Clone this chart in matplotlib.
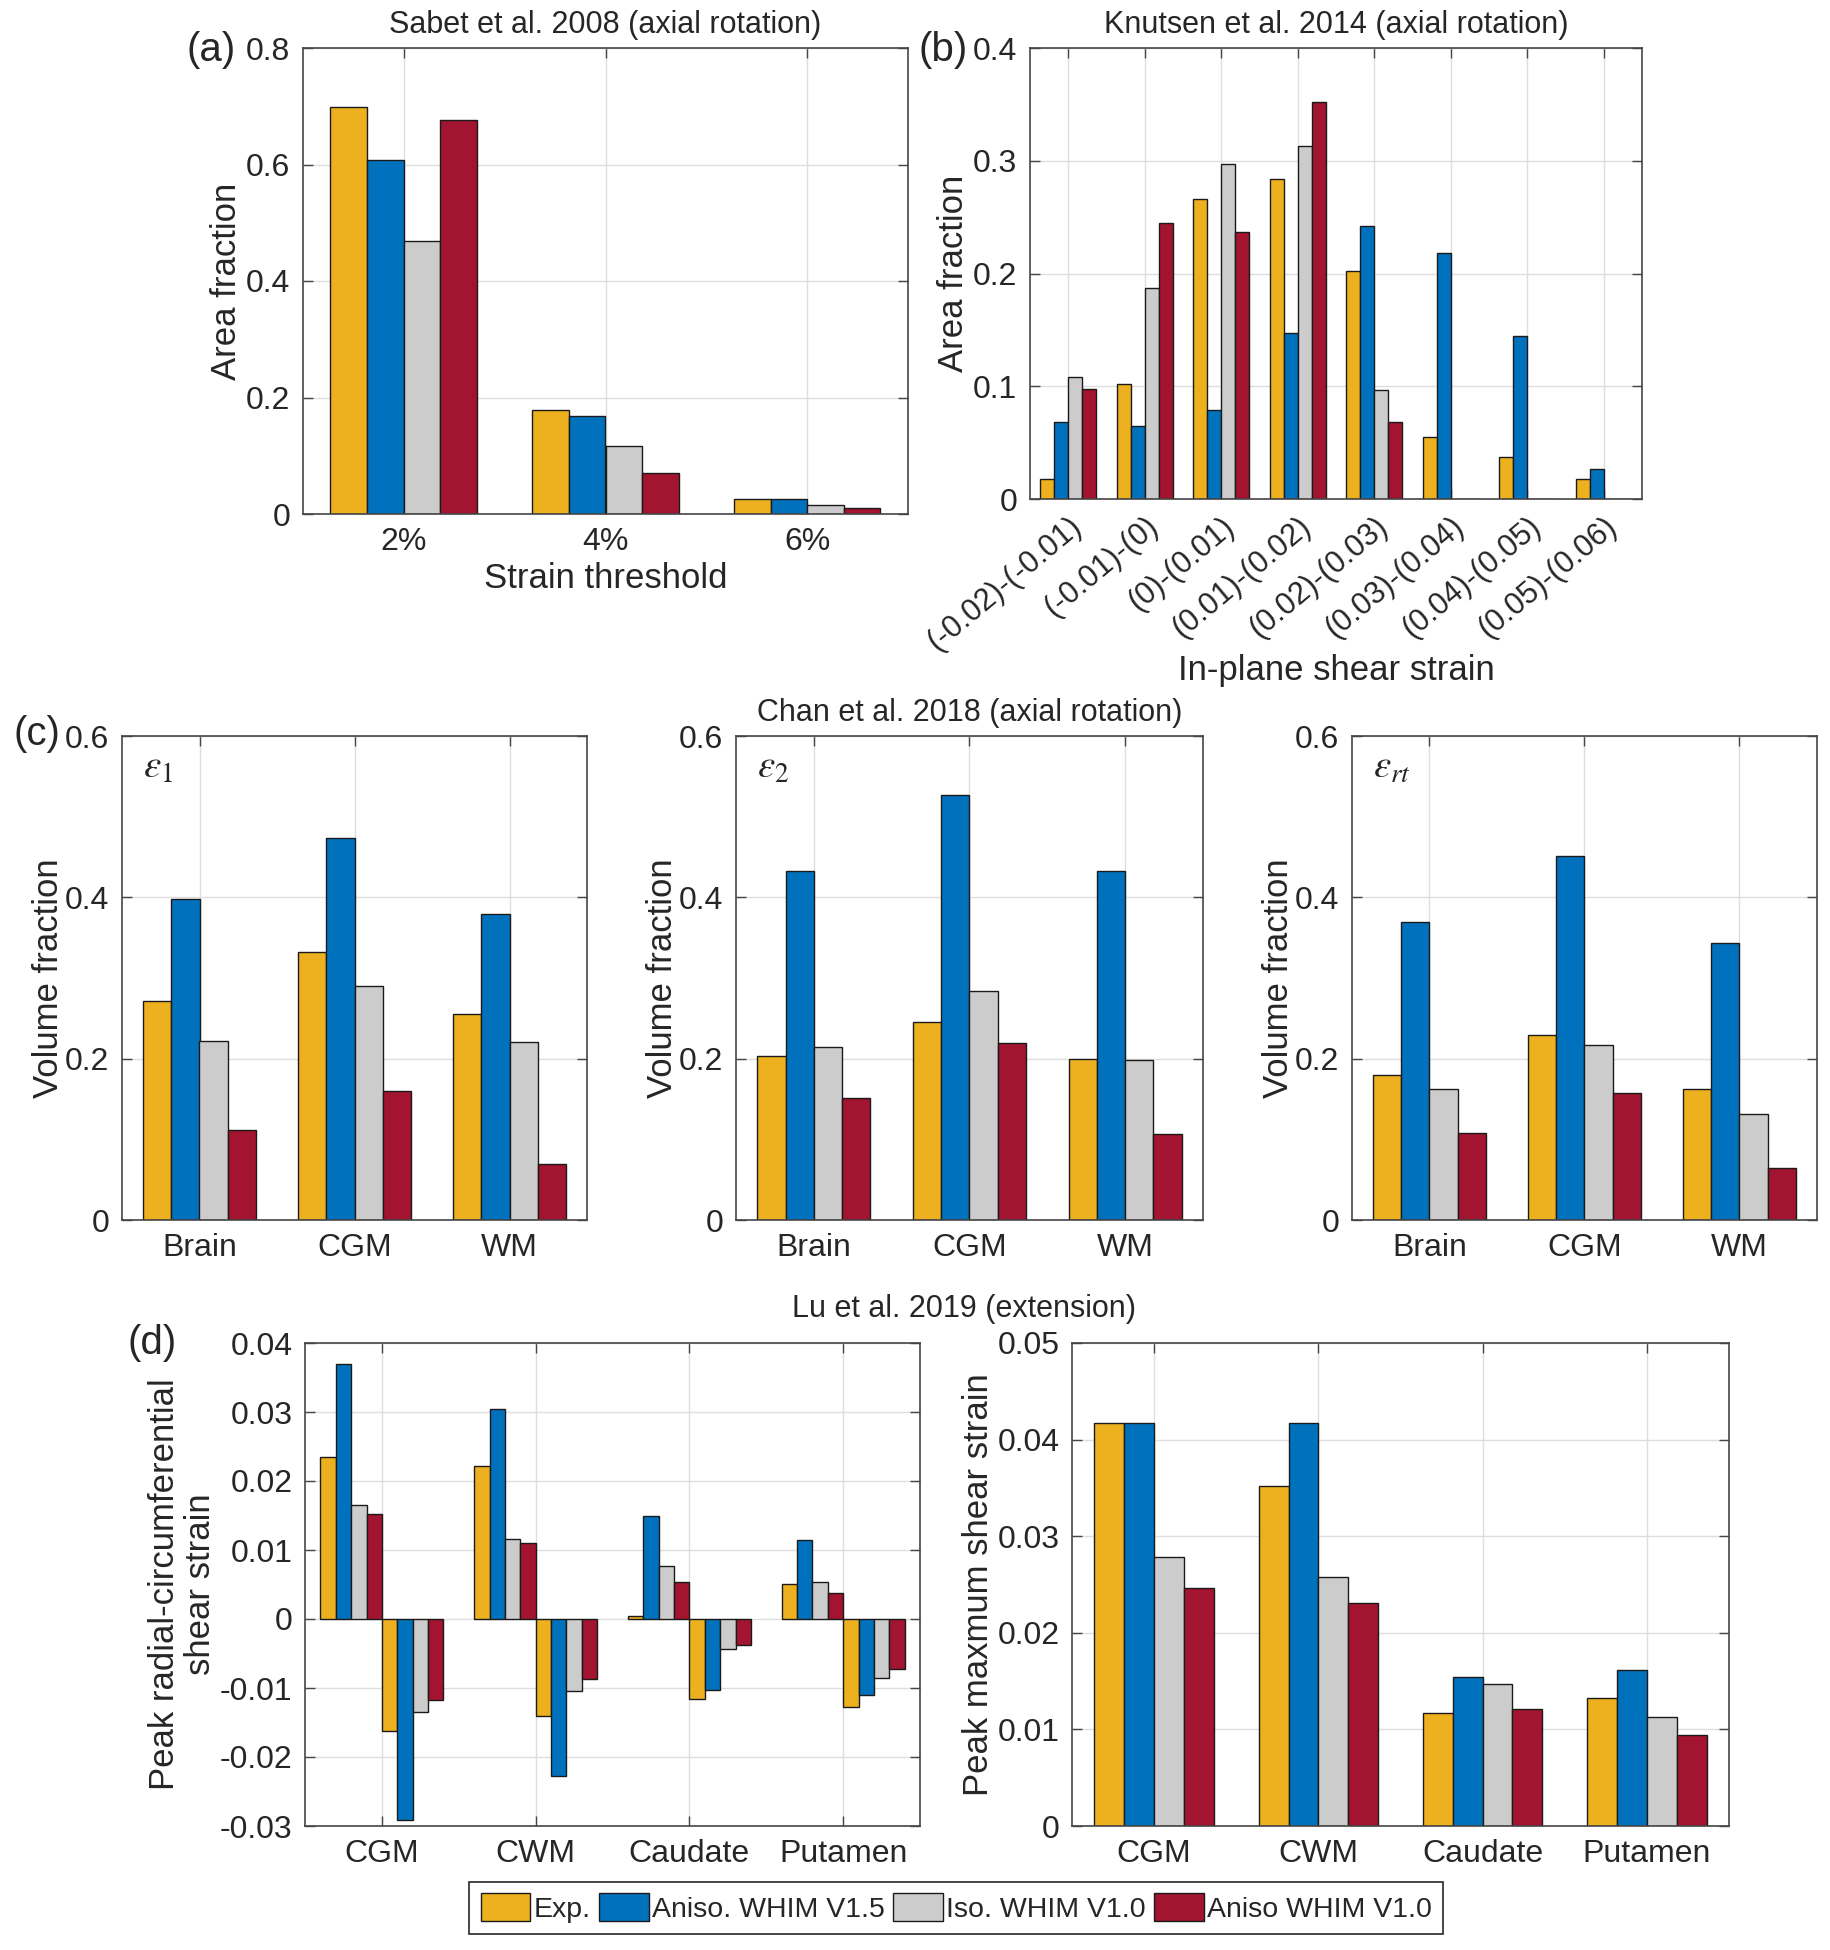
import matplotlib
matplotlib.use("Agg")
import matplotlib.pyplot as plt
from matplotlib.patches import Patch
import numpy as np

plt.rcParams['font.family'] = ['Liberation Sans', 'DejaVu Sans']
plt.rcParams['mathtext.fontset'] = 'stix'

# ---- data ----
series_names = ['Exp.', 'Aniso. WHIM V1.5', 'Iso. WHIM V1.0', 'Aniso WHIM V1.0']
colors = ['#EDB120', '#0072BD', '#CCCCCC', '#A2142F']

# (a) Sabet et al. 2008
a_cats = ['2%', '4%', '6%']
a_exp = [0.698, 0.178, 0.026]
a_an15 = [0.607, 0.168, 0.026]
a_iso = [0.468, 0.117, 0.016]
a_an10 = [0.677, 0.070, 0.011]

# (b) Knutsen et al. 2014
b_cats = ['(-0.02)-(-0.01)', '(-0.01)-(0)', '(0)-(0.01)', '(0.01)-(0.02)',
          '(0.02)-(0.03)', '(0.03)-(0.04)', '(0.04)-(0.05)', '(0.05)-(0.06)']
b_exp = [0.018, 0.102, 0.266, 0.284, 0.202, 0.055, 0.037, 0.018]
b_an15 = [0.068, 0.065, 0.079, 0.147, 0.242, 0.218, 0.145, 0.027]
b_iso = [0.108, 0.187, 0.297, 0.313, 0.097, 0.0, 0.0, 0.0]
b_an10 = [0.098, 0.245, 0.237, 0.352, 0.068, 0.0, 0.0, 0.0]

# (c) Chan et al. 2018
c_cats = ['Brain', 'CGM', 'WM']
c_e1_exp = [0.271, 0.332, 0.255]
c_e1_an15 = [0.398, 0.474, 0.379]
c_e1_iso = [0.222, 0.290, 0.221]
c_e1_an10 = [0.111, 0.160, 0.069]
c_e2_exp = [0.203, 0.245, 0.200]
c_e2_an15 = [0.433, 0.527, 0.433]
c_e2_iso = [0.215, 0.284, 0.198]
c_e2_an10 = [0.151, 0.219, 0.106]
c_ert_exp = [0.180, 0.229, 0.163]
c_ert_an15 = [0.369, 0.451, 0.343]
c_ert_iso = [0.163, 0.217, 0.131]
c_ert_an10 = [0.108, 0.158, 0.065]

# (d) Lu et al. 2019
d_cats = ['CGM', 'CWM', 'Caudate', 'Putamen']
d_pos_exp = [0.0235, 0.0222, 0.0005, 0.0051]
d_pos_an15 = [0.0369, 0.0304, 0.0150, 0.0115]
d_pos_iso = [0.0165, 0.0116, 0.0077, 0.0053]
d_pos_an10 = [0.0152, 0.0110, 0.0054, 0.0038]
d_neg_exp = [-0.0162, -0.0140, -0.0116, -0.0127]
d_neg_an15 = [-0.0292, -0.0227, -0.0103, -0.0110]
d_neg_iso = [-0.0135, -0.0105, -0.0043, -0.0086]
d_neg_an10 = [-0.0118, -0.0087, -0.0037, -0.0073]
d_max_exp = [0.0417, 0.0352, 0.0117, 0.0133]
d_max_an15 = [0.0417, 0.0417, 0.0154, 0.0162]
d_max_iso = [0.0278, 0.0258, 0.0147, 0.0113]
d_max_an10 = [0.0246, 0.0231, 0.0121, 0.0094]

W, H = 1831, 1950
fig = plt.figure(figsize=(W / 100, H / 100), dpi=100)

TXT = '#262626'
FS = 23


def make_ax(left, right, top, bottom):
    ax = fig.add_axes([left / W, 1 - bottom / H, (right - left) / W, (bottom - top) / H])
    ax.set_axisbelow(True)
    ax.grid(True, color='#dedede', lw=1.0)
    for s in ax.spines.values():
        s.set_color('#454545')
        s.set_linewidth(1.2)
    ax.tick_params(direction='in', top=True, right=True, length=7, width=1,
                   color='#454545', labelsize=FS, labelcolor=TXT, pad=9)
    return ax


def grouped(ax, cats, groups):
    # MATLAB style grouped bars
    n = len(groups)
    gw = min(0.8, n / (n + 1.5))
    w = gw / n
    x = np.arange(1, len(cats) + 1)
    for i, vals in enumerate(groups):
        off = -gw / 2 + w * (i + 0.5)
        ax.bar(x + off, vals, width=w, color=colors[i % 4], edgecolor='#1a1a1a', linewidth=1.0)
    ax.set_xticks(x)
    ax.set_xticklabels(cats)
    ax.set_xlim(0.5, len(cats) + 0.5)


# (a)
ax = make_ax(303, 908, 48, 514)
grouped(ax, a_cats, [a_exp, a_an15, a_iso, a_an10])
ax.set_ylim(0, 0.8)
ax.set_yticks([0, 0.2, 0.4, 0.6, 0.8])
ax.set_yticklabels(['0', '0.2', '0.4', '0.6', '0.8'])
ax.set_ylabel('Area fraction', fontsize=25, color=TXT, labelpad=2)
ax.set_xlabel('Strain threshold', fontsize=25, color=TXT, labelpad=4)
fig.text(605 / W, 1 - 25 / H, 'Sabet et al. 2008 (axial rotation)', ha='center', va='center', fontsize=22, color=TXT)
fig.text(211 / W, 1 - 50 / H, '(a)', ha='center', va='center', fontsize=29, color=TXT)

# (b)
ax = make_ax(1030, 1642, 48, 499)
grouped(ax, b_cats, [b_exp, b_an15, b_iso, b_an10])
ax.set_xticklabels(b_cats, rotation=40, ha='right', rotation_mode='anchor', fontsize=22)
ax.set_ylim(0, 0.4)
ax.set_yticks([0, 0.1, 0.2, 0.3, 0.4])
ax.set_yticklabels(['0', '0.1', '0.2', '0.3', '0.4'])
ax.set_ylabel('Area fraction', fontsize=25, color=TXT, labelpad=2)
ax.set_xlabel('In-plane shear strain', fontsize=25, color=TXT, labelpad=-2)
fig.text(1336 / W, 1 - 25 / H, 'Knutsen et al. 2014 (axial rotation)', ha='center', va='center', fontsize=22, color=TXT)
fig.text(943 / W, 1 - 50 / H, '(b)', ha='center', va='center', fontsize=29, color=TXT)

# (c)
c_sets = [
    (122, 587, r'$\varepsilon_1$', [c_e1_exp, c_e1_an15, c_e1_iso, c_e1_an10]),
    (736, 1203, r'$\varepsilon_2$', [c_e2_exp, c_e2_an15, c_e2_iso, c_e2_an10]),
    (1352, 1817, r'$\varepsilon_{rt}$', [c_ert_exp, c_ert_an15, c_ert_iso, c_ert_an10]),
]
for left, right, lab, groups in c_sets:
    ax = make_ax(left, right, 736, 1220)
    grouped(ax, c_cats, groups)
    ax.set_ylim(0, 0.6)
    ax.set_yticks([0, 0.2, 0.4, 0.6])
    ax.set_yticklabels(['0', '0.2', '0.4', '0.6'])
    ax.set_ylabel('Volume fraction', fontsize=25, color=TXT, labelpad=0)
    ax.text(0.045, 0.935, lab, transform=ax.transAxes, fontsize=28, color=TXT, va='center', ha='left')
fig.text(970 / W, 1 - 713 / H, 'Chan et al. 2018 (axial rotation)', ha='center', va='center', fontsize=22, color=TXT)
fig.text(37 / W, 1 - 734 / H, '(c)', ha='center', va='center', fontsize=29, color=TXT)

# (d) left
ax = make_ax(305, 920, 1343, 1826)
grouped(ax, d_cats, [d_pos_exp, d_pos_an15, d_pos_iso, d_pos_an10,
                     d_neg_exp, d_neg_an15, d_neg_iso, d_neg_an10])
ax.set_ylim(-0.03, 0.04)
ax.set_yticks([-0.03, -0.02, -0.01, 0, 0.01, 0.02, 0.03, 0.04])
ax.set_yticklabels(['-0.03', '-0.02', '-0.01', '0', '0.01', '0.02', '0.03', '0.04'])
ax.set_ylabel('Peak radial-circumferential\nshear strain', fontsize=25, color=TXT, labelpad=2, linespacing=1.1)

# (d) right
ax = make_ax(1072, 1729, 1343, 1826)
grouped(ax, d_cats, [d_max_exp, d_max_an15, d_max_iso, d_max_an10])
ax.set_ylim(0, 0.05)
ax.set_yticks([0, 0.01, 0.02, 0.03, 0.04, 0.05])
ax.set_yticklabels(['0', '0.01', '0.02', '0.03', '0.04', '0.05'])
ax.set_ylabel('Peak maxmum shear strain', fontsize=25, color=TXT, labelpad=2)
fig.text(964 / W, 1 - 1309 / H, 'Lu et al. 2019 (extension)', ha='center', va='center', fontsize=22, color=TXT)
fig.text(152 / W, 1 - 1343 / H, '(d)', ha='center', va='center', fontsize=29, color=TXT)

handles = [Patch(facecolor=c, edgecolor='#1a1a1a', linewidth=1.0) for c in colors]
leg = fig.legend(handles, series_names, loc='center', ncol=4,
                 bbox_to_anchor=(956 / W, 1 - 1908 / H), fontsize=20.5,
                 handlelength=1.75, handleheight=1.15, handletextpad=0.1,
                 columnspacing=0.3, borderpad=0.4, fancybox=False,
                 edgecolor='#262626', framealpha=1)
leg.get_frame().set_linewidth(1.2)
for t in leg.get_texts():
    t.set_color(TXT)

fig.savefig('out.png', dpi=100)
